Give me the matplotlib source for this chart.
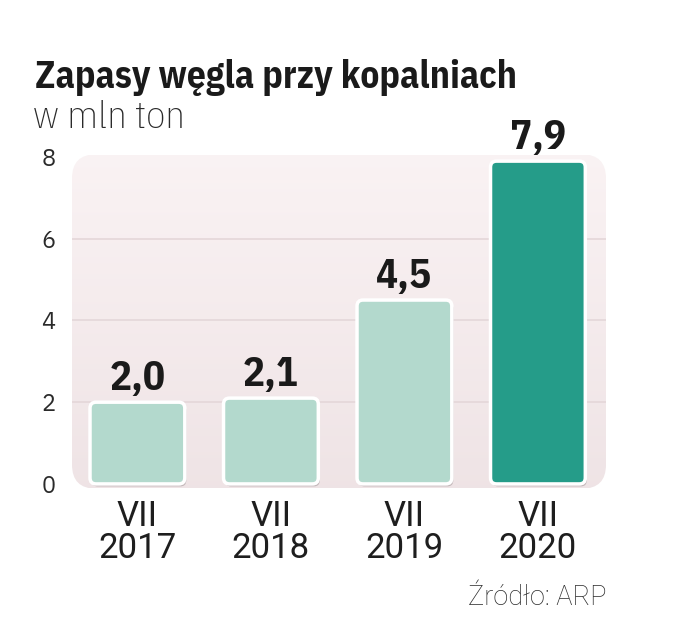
import matplotlib
matplotlib.use("Agg")
import matplotlib.pyplot as plt
from matplotlib.patches import FancyBboxPatch
import numpy as np

categories = ["VII\n2017", "VII\n2018", "VII\n2019", "VII\n2020"]
values = [2.0, 2.1, 4.5, 7.9]
value_labels = ["2,0", "2,1", "4,5", "7,9"]
yticks = [0, 2, 4, 6, 8]
title = "Zapasy węgla przy kopalniach"
subtitle = "w mln ton"
source = "Źródło: ARP"

cond = ["IBM Plex Sans Condensed", "DejaVu Sans"]
plex = ["IBM Plex Sans", "DejaVu Sans"]
rob = ["Roboto", "DejaVu Sans"]

W, H = 693, 640
fig = plt.figure(figsize=(W / 100, H / 100), dpi=100)

ymin, ymax = -0.1, 8.05
xmin, xmax = -0.49, 3.51
left_px, right_px = 72, 606
top_px, bot_px = 155, 488
ax = fig.add_axes([left_px / W, (H - bot_px) / H, (right_px - left_px) / W, (bot_px - top_px) / H])
ax.set_xlim(xmin, xmax)
ax.set_ylim(ymin, ymax)
for s in ax.spines.values():
    s.set_visible(False)
ax.patch.set_alpha(0)

# panel with rounded corners and gradient
panel = FancyBboxPatch((0.02, 0.03), 0.96, 0.94, boxstyle="round,pad=0.02,rounding_size=0.045",
                       transform=ax.transAxes, facecolor="none", edgecolor="none",
                       mutation_aspect=(right_px - left_px) / (bot_px - top_px))
ax.add_patch(panel)
grad = np.linspace(0, 1, 256).reshape(-1, 1)
top_c = np.array([0.980, 0.951, 0.955])
bot_c = np.array([0.937, 0.893, 0.900])
img = top_c * (1 - grad[..., None]) + bot_c * grad[..., None]
im = ax.imshow(img, extent=[0, 1, 0, 1], transform=ax.transAxes, aspect="auto", zorder=0)
im.set_clip_path(panel)

for t in yticks[1:-1]:
    ax.axhline(t, color="#e4d7d9", lw=1.2, zorder=1)

ax.set_yticks(yticks)
ax.set_yticklabels([str(t) for t in yticks], fontsize=17, family=plex, fontweight="light", color="#2a2a2a")
ax.tick_params(axis="y", length=0, pad=12)
ax.set_xticks(range(len(categories)))
ax.set_xticklabels(categories, fontsize=25, family=rob, color="#1e1e1e", linespacing=0.95)
ax.tick_params(axis="x", length=0, pad=9)

colors = ["#b3d9cd", "#b3d9cd", "#b3d9cd", "#259c89"]
bars = ax.bar(range(len(values)), values, width=0.71, color="none", zorder=2)
xpx = (right_px - left_px) / (xmax - xmin)
ypx = (bot_px - top_px) / (ymax - ymin)
asp = xpx / ypx
r = 6 / xpx
for b, c in zip(bars, colors):
    x0, y0, w, h = b.get_x(), b.get_y(), b.get_width(), b.get_height()
    sh = FancyBboxPatch((x0 + r + 1.5 / xpx, y0 + asp * r - 2.5 / ypx), w - 2 * r, h - 2 * asp * r,
                        boxstyle=f"round,pad={r},rounding_size={r}", mutation_aspect=asp,
                        facecolor="#b8adaf", edgecolor="none", zorder=2, alpha=0.8)
    ax.add_patch(sh)
    p = FancyBboxPatch((x0 + r, y0 + asp * r), w - 2 * r, h - 2 * asp * r,
                       boxstyle=f"round,pad={r},rounding_size={r}", mutation_aspect=asp,
                       facecolor=c, edgecolor="white", lw=2.5, zorder=3)
    ax.add_patch(p)

for i, (v, lab) in enumerate(zip(values, value_labels)):
    ax.annotate(lab, (i, v), xytext=(0, 3), textcoords="offset points", ha="center", va="bottom",
                fontsize=29.5, fontweight="bold", family=cond, color="#1a1a1a", zorder=4)

fig.text(35 / W, 1 - 88 / H, title, fontsize=27, fontweight="bold", family=cond, color="#1a1a1a")
fig.text(33 / W, 1 - 128 / H, subtitle, fontsize=28, fontweight="light", family=cond, color="#2a2a2a")
fig.text(606 / W, 1 - 605 / H, source, fontsize=19.5, fontweight="light", family=rob, color="#2a2a2a", ha="right")

fig.savefig("out.png", dpi=100, facecolor="white")
